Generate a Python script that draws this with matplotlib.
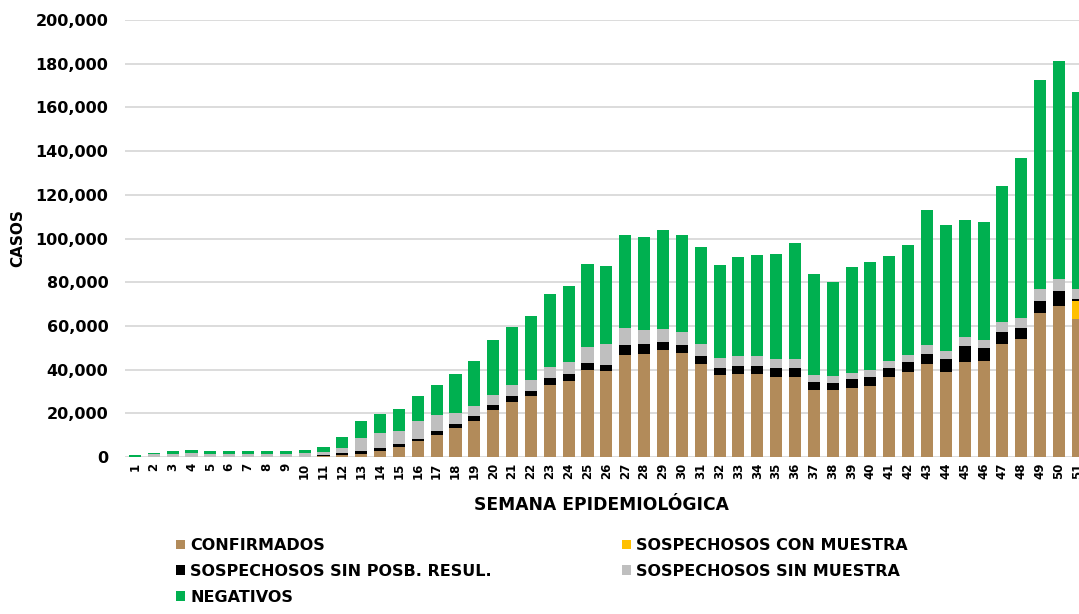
import matplotlib
matplotlib.use("Agg")
import matplotlib.pyplot as plt
import numpy as np

# weeks and stacked series (thousands of cases)
semanas = list(range(1, 52))

confirmados = [0, 0, 0, 0, 0, 0, 0, 0, 0.01, 0.1,
               0.4, 1.0, 1.4, 2.7, 4.6, 7.2, 10.1, 13.1, 16.3, 21.7,
               25.3, 27.9, 33.1, 34.8, 39.7, 39.2, 46.7, 47.3, 48.8, 47.8,
               42.7, 37.4, 38.1, 38.1, 36.5, 36.5, 30.8, 30.5, 31.7, 32.5,
               36.5, 39.1, 42.4, 38.7, 43.6, 43.9, 51.9, 54.0, 65.9, 69.3,
               63.3]
con_muestra = [0] * 50 + [8.2]
sin_posb = [0, 0, 0, 0, 0, 0, 0, 0, 0, 0,
            0.3, 0.8, 1.3, 1.3, 1.2, 1.2, 1.7, 2.2, 2.3, 2.0,
            2.8, 2.3, 3.2, 3.3, 3.3, 2.8, 4.4, 4.3, 3.7, 3.5,
            3.7, 3.3, 3.4, 3.7, 4.4, 4.1, 3.4, 3.2, 4.2, 4.1,
            4.2, 4.2, 4.9, 6.0, 7.4, 6.1, 5.2, 5.2, 5.6, 6.5,
            1.0]
sin_muestra = [0.2, 1.2, 1.5, 1.7, 1.4, 1.4, 1.4, 1.4, 1.4, 1.7,
               1.6, 2.2, 6.2, 7.1, 6.3, 7.9, 7.3, 4.7, 4.8, 4.8,
               4.7, 4.9, 4.9, 5.4, 7.3, 9.6, 8.1, 6.7, 6.3, 5.9,
               5.2, 4.8, 4.6, 4.3, 3.8, 4.4, 3.3, 3.2, 2.5, 3.1,
               3.2, 3.2, 4.0, 3.8, 3.9, 3.5, 4.7, 4.6, 5.4, 5.7,
               4.5]
negativos = [0.7, 0.8, 1.3, 1.4, 1.4, 1.4, 1.4, 1.4, 1.4, 1.3,
             2.4, 5.2, 7.4, 8.6, 9.9, 11.6, 13.7, 18.0, 20.6, 25.1,
             26.9, 29.4, 33.2, 34.8, 37.9, 36.0, 42.6, 42.6, 44.9, 44.6,
             44.7, 42.2, 45.4, 46.5, 48.2, 52.8, 46.3, 43.2, 48.6, 49.7,
             48.2, 50.4, 61.6, 57.5, 53.7, 54.2, 62.4, 72.9, 95.8, 99.7,
             89.9]

series = [
    ("CONFIRMADOS", confirmados, "#B28B5A"),
    ("SOSPECHOSOS CON MUESTRA", con_muestra, "#FFC000"),
    ("SOSPECHOSOS SIN POSB. RESUL.", sin_posb, "#000000"),
    ("SOSPECHOSOS SIN MUESTRA", sin_muestra, "#BFBFBF"),
    ("NEGATIVOS", negativos, "#00B050"),
]

plt.rcParams['font.family'] = ['DejaVu Sans']
plt.rcParams['font.weight'] = 'bold'

fig = plt.figure(figsize=(10.79, 6.14), dpi=100)
ax = fig.add_axes([0.1158, 0.2557, 0.884, 0.7117])

x = np.array(semanas)
bottom = np.zeros(len(x))
handles = {}
for name, vals, col in series:
    v = np.array(vals) * 1000
    b = ax.bar(x, v, 0.64, bottom=bottom, color=col, zorder=3, label=name)
    handles[name] = b
    bottom += v

ax.set_xlim(0.47, 51.05)
ax.set_ylim(0, 200000)
ax.set_yticks(np.arange(0, 200001, 20000))
ax.set_yticklabels([f"{v:,}" for v in range(0, 200001, 20000)], fontsize=11.5, fontweight='bold')
ax.set_xticks(x)
ax.set_xticklabels([str(s) for s in semanas], rotation=90, fontsize=8.5, fontweight='bold')
ax.tick_params(axis='y', length=0, pad=12)
ax.tick_params(axis='x', length=0, pad=4)
ax.grid(axis='y', color='#d9d9d9', linewidth=1.3, zorder=0)
for s in ax.spines.values():
    s.set_visible(False)

ax.set_xlabel("SEMANA EPIDEMIOLÓGICA", fontsize=12.3, fontweight='bold', labelpad=12)
ax.set_ylabel("CASOS", fontsize=11, fontweight='bold')
ax.yaxis.set_label_coords(-0.105, 0.5)

kw = dict(frameon=False, fontsize=11.5, handlelength=0.55, handleheight=0.55,
          handletextpad=0.35, labelspacing=0.68, borderaxespad=0, borderpad=0)
leg1 = fig.legend([handles["CONFIRMADOS"], handles["SOSPECHOSOS SIN POSB. RESUL."], handles["NEGATIVOS"]],
                  ["CONFIRMADOS", "SOSPECHOSOS SIN POSB. RESUL.", "NEGATIVOS"],
                  loc='upper left', bbox_to_anchor=(176 / 1079, 1 - 538 / 614), **kw)
leg2 = fig.legend([handles["SOSPECHOSOS CON MUESTRA"], handles["SOSPECHOSOS SIN MUESTRA"]],
                  ["SOSPECHOSOS CON MUESTRA", "SOSPECHOSOS SIN MUESTRA"],
                  loc='upper left', bbox_to_anchor=(622 / 1079, 1 - 538 / 614), **kw)

fig.savefig("out.png", dpi=100)
